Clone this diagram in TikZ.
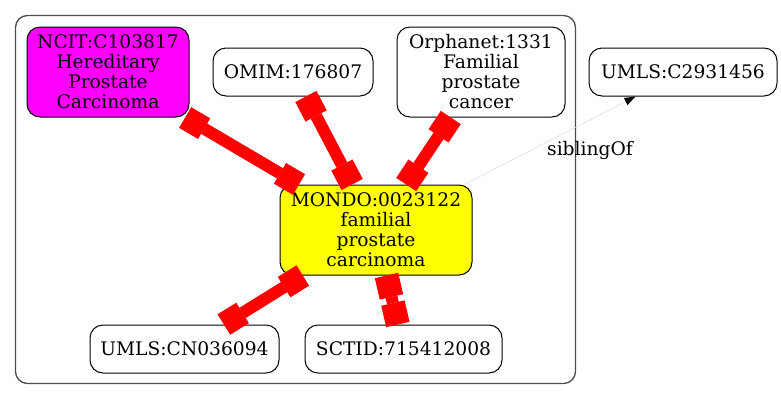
\documentclass[tikz,border=0pt]{standalone}
\usepackage{fontspec}
\setmainfont{DejaVu Serif}
\usetikzlibrary{arrows.meta}
\definecolor{clustergray}{RGB}{77,77,77}
\definecolor{gvmagenta}{RGB}{255,0,255}
\definecolor{gvyellow}{RGB}{255,255,0}
\definecolor{gvred}{RGB}{255,0,0}
\tikzset{
    %Define style for term boxes
    term/.style={
           rectangle,
           rounded corners=13pt,
           draw=black, line width=1pt,
           inner sep=0pt,
           align=center,
           font=\fontsize{18.67}{20}\selectfont},
    %Define style for the thick red mappings
    xref/.style={
           color=gvred, line width=12pt,
           {Rectangle[length=22pt,width=24pt,line width=0pt]}-{Rectangle[length=22pt,width=24pt,line width=0pt]}},
    %Define style for the sibling link
    sib/.style={
           draw=black!15, line width=0.5pt,
           -{Triangle[length=11pt,width=8pt,line width=0pt,color=black]}}
}
\begin{document}
\begin{tikzpicture}[x=1pt,y=-1pt]
\useasboundingbox (0,0) rectangle (781,400);
 %cluster
\draw[clustergray, line width=1.3pt, rounded corners=12pt] (15.5,15.5) rectangle (575.5,383.5);
 %nodes
\node[term, fill=gvmagenta, minimum width=162pt, minimum height=90pt] (ncit) at (108,72) {NCIT:C103817\\Hereditary\\Prostate\\Carcinoma};
\node[term, minimum width=160pt, minimum height=48pt] (omim) at (293,72) {OMIM:176807};
\node[term, minimum width=168pt, minimum height=90pt] (orpha) at (481,72) {Orphanet:1331\\Familial\\prostate\\cancer};
\node[term, minimum width=188pt, minimum height=48pt] (umls) at (683,72) {UMLS:C2931456};
\node[term, fill=gvyellow, minimum width=192pt, minimum height=90pt] (mondo) at (376,230) {MONDO:0023122\\familial\\prostate\\carcinoma};
\node[term, minimum width=189pt, minimum height=48pt] (cn) at (184.5,349) {UMLS:CN036094};
\node[term, minimum width=197pt, minimum height=48pt] (sctid) at (403.5,349) {SCTID:715412008};
 %edges
\path[xref]
    (ncit) edge (mondo)
    (omim) edge (mondo)
    (orpha) edge (mondo)
    (mondo) edge (cn)
    	edge (sctid);
\draw[sib] (mondo) -- (umls);
\node[font=\fontsize{18.67}{20}\selectfont] (siblbl) at (590,150) {siblingOf};
\end{tikzpicture}
\end{document}
